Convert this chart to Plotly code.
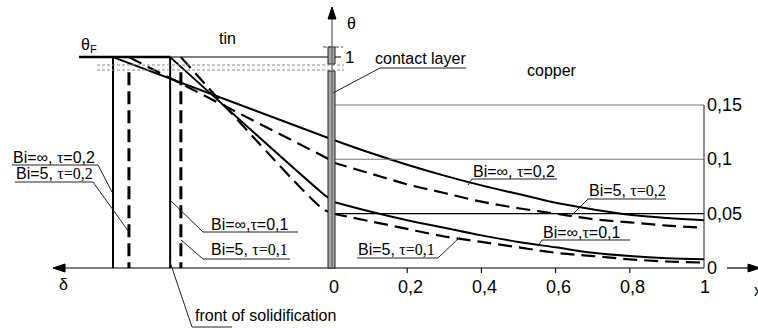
import plotly.graph_objects as go

# ---------------- data ----------------
# copper region (dimensionless x from contact), temperature theta
copper_x = [0.0, 0.1, 0.2, 0.3, 0.4, 0.5, 0.6, 0.7, 0.8, 0.9, 1.0]
theta_inf_02 = [0.118, 0.106, 0.095, 0.085, 0.076, 0.068, 0.060, 0.054, 0.049, 0.046, 0.044]
theta_bi5_02 = [0.097, 0.087, 0.077, 0.069, 0.061, 0.055, 0.050, 0.045, 0.042, 0.039, 0.037]
theta_inf_01 = [0.061, 0.052, 0.044, 0.037, 0.030, 0.024, 0.019, 0.014, 0.011, 0.009, 0.008]
theta_bi5_01 = [0.050, 0.043, 0.036, 0.029, 0.024, 0.019, 0.014, 0.011, 0.008, 0.006, 0.005]

# tin region (schematic, drawn left of the contact, theta axis compressed)
theta_F_disp = 0.194           # display level of theta = theta_F = 1
tin_inf_02_x = [-0.593, 0.0]
tin_inf_02_t = [0.194, 0.118]
tin_bi5_02_x = [-0.550, -0.016, 0.0]
tin_bi5_02_t = [0.194, 0.101, 0.097]
tin_inf_01_x = [-0.439, -0.022, -0.008, 0.0]
tin_inf_01_t = [0.194, 0.067, 0.0635, 0.061]
tin_bi5_01_x = [-0.410, -0.030, -0.011, 0.0]
tin_bi5_01_t = [0.194, 0.055, 0.0515, 0.050]

# solidification fronts
front_inf_02 = -0.593
front_bi5_02 = -0.550
front_inf_01 = -0.439
front_bi5_01 = -0.410
dashed_front_top = 0.180

x_ticks = [0, 0.2, 0.4, 0.6, 0.8, 1]
x_tick_labels = ["0", "0,2", "0,4", "0,6", "0,8", "1"]
theta_ticks = [0, 0.05, 0.1, 0.15]
theta_tick_labels = ["0", "0,05", "0,1", "0,15"]

# ---------------- layout helpers ----------------
W, H = 758, 328
X0_PX, X1_PX = 333.0, 704.0
Y0_PX = 268.0
PX_PER_THETA = 1087.0


def P(px, py):
    return ((px - X0_PX) / (X1_PX - X0_PX), (Y0_PX - py) / PX_PER_THETA)


def PX(px):
    return P(px, 0)[0]


def PY(py):
    return P(0, py)[1]


SANS = "Liberation Sans, Arial, sans-serif"
SERIF = "Liberation Serif, Times New Roman, serif"
BLACK = "#000000"

fig = go.Figure()

SOLID = dict(color=BLACK, width=2)
DASH = dict(color=BLACK, width=2.2, dash="14px,7px")


def add_line(x, y, line, shape="linear"):
    fig.add_trace(go.Scatter(x=x, y=y, mode="lines", line=dict(**line, shape=shape),
                             hoverinfo="skip", showlegend=False))


# theta_F level (thick) up to the tau=0.1 front
add_line([PX(79), front_inf_01], [theta_F_disp, theta_F_disp], dict(color=BLACK, width=2.5))

# fronts
add_line([front_inf_02, front_inf_02], [theta_F_disp, 0], SOLID)
add_line([front_inf_01, front_inf_01], [theta_F_disp, 0], SOLID)
add_line([front_bi5_02, front_bi5_02], [dashed_front_top, 0], dict(color=BLACK, width=3, dash="13px,6px"))
add_line([front_bi5_01, front_bi5_01], [dashed_front_top, 0], dict(color=BLACK, width=3, dash="13px,6px"))

# tin profiles
add_line(tin_inf_02_x, tin_inf_02_t, SOLID)
add_line(tin_bi5_02_x, tin_bi5_02_t, DASH)
add_line(tin_inf_01_x, tin_inf_01_t, SOLID, "spline")
add_line(tin_bi5_01_x, tin_bi5_01_t, DASH, "spline")

# copper profiles
add_line(copper_x, theta_inf_02, SOLID, "spline")
add_line(copper_x, theta_bi5_02, DASH, "spline")
add_line(copper_x, theta_inf_01, SOLID, "spline")
add_line(copper_x, theta_bi5_01, DASH, "spline")

shapes = []


def seg(p1, p2, color=BLACK, width=1, dash=None, layer="above"):
    x1, y1 = P(*p1)
    x2, y2 = P(*p2)
    ln = dict(color=color, width=width)
    if dash:
        ln["dash"] = dash
    shapes.append(dict(type="line", xref="x", yref="y", x0=x1, y0=y1, x1=x2, y1=y2,
                       line=ln, layer=layer))


def poly(pts, color=BLACK, width=1, fill=None, closed=False):
    d = ""
    for i, (px, py) in enumerate(pts):
        x, y = P(px, py)
        d += ("M" if i == 0 else "L") + f"{x},{y} "
    if closed:
        d += "Z"
    shapes.append(dict(type="path", xref="x", yref="y", path=d,
                       line=dict(color=color, width=width),
                       fillcolor=fill if fill else "rgba(0,0,0,0)"))


# theta = 1 thin line
seg((170, 57), (341, 57), width=1)
# double dashed lines
seg((97, 65), (344, 65), color="#8a8a8a", width=1.2, dash="3px,2px")
seg((97, 70), (344, 70), color="#8a8a8a", width=1.2, dash="3px,2px")
# top cap of contact layer
seg((323, 47), (343, 47), color="#555555", width=1.2, dash="4px,2px")

# horizontal axis
seg((62, 268), (704, 268), width=1.2)
seg((727, 268), (750, 268), width=1.2)
poly([(53, 268), (65, 264), (65, 272)], fill=BLACK, closed=True)
poly([(760, 268), (748, 264), (748, 272)], fill=BLACK, closed=True)

# copper grid / right axis from theta ticks
for t in theta_ticks[1:]:
    col = BLACK if t == 0.05 else "#777777"
    shapes.append(dict(type="line", xref="x", yref="y", x0=PX(335), x1=1, y0=t, y1=t,
                       line=dict(color=col, width=1.1)))
shapes.append(dict(type="line", xref="x", yref="y", x0=1, x1=1, y0=0, y1=max(theta_ticks),
                   line=dict(color="#333333", width=1.1)))
for xt in x_ticks[1:-1]:
    shapes.append(dict(type="line", xref="x", yref="y", x0=xt, x1=xt, y0=0, y1=PY(273),
                       line=dict(color=BLACK, width=1.1)))

# contact layer bar
for ytop, ybot in [(47, 64), (71, 268)]:
    x1, y1 = P(328, ybot)
    x2, y2 = P(335, ytop)
    shapes.append(dict(type="rect", xref="x", yref="y", x0=x1, x1=x2, y0=y1, y1=y2,
                       fillcolor="#a8a8a8", line=dict(color="#222222", width=1)))
# theta axis
seg((332, 268), (332, 16), color="#666666", width=1.3)
poly([(332, 7), (328, 19), (336, 19)], fill=BLACK, closed=True)

# leader lines
LC = "#222222"
poly([(12, 165), (98, 165), (112, 192)], color=LC)
poly([(15, 182), (93, 182), (129, 232)], color=LC)
poly([(170, 200), (203, 232), (298, 232)], color=LC)
poly([(181, 240), (203, 259), (290, 259)], color=LC)
poly([(170, 262), (192, 327), (232, 327)], color=LC)
poly([(333, 93), (380, 68), (466, 68)], color=LC)
poly([(468, 185), (472, 179), (557, 179)], color=LC)
poly([(570, 217), (588, 199), (666, 199)], color=LC)
poly([(538, 246), (542, 240), (630, 240)], color=LC)
poly([(357, 258), (438, 258), (460, 237)], color=LC)

annotations = []


def text(s, px, py, size=16, anchor="left", font=SANS, xshift=0):
    x, y = P(px, py)
    annotations.append(dict(x=x, y=y, xref="x", yref="y", text=s, showarrow=False,
                            xanchor=anchor, yanchor="middle", xshift=xshift,
                            font=dict(family=font, size=size, color=BLACK)))


def tau(v):
    return f"<span style='font-family:{SERIF}'>τ=0,{v}</span>"


def tau_s(v):
    return f"<span style='font-family:{SERIF}'>τ</span>=0,{v}"


text("Bi=∞, " + tau_s(2), 11, 157)
text("Bi=5, " + tau(2), 14, 173)
text("Bi=∞," + tau_s(1), 209, 224)
text("Bi=5, " + tau(1), 209, 249)
text("front of solidification", 193, 315)
text("contact layer", 373, 58)
text("copper", 552, 70, anchor="center")
text("tin", 227, 38, anchor="center")
text("θ", 345, 23)
text("θ<sub>F</sub>", 79, 45)
text("1", 343, 57, size=17)
text("Bi=∞, " + tau_s(2), 471, 171)
text("Bi=5, " + tau(2), 587, 190)
text("Bi=∞," + tau_s(1), 541, 232)
text("Bi=5, " + tau(1), 356, 249)
text("δ", 63, 284, anchor="center")
text("x", 752, 290)

# tick labels from tick arrays
for xt, lab in zip(x_ticks, x_tick_labels):
    annotations.append(dict(x=xt, y=PY(287), xref="x", yref="y", text=lab, showarrow=False,
                            xanchor="center", yanchor="middle", xshift=(3 if lab not in ("0", "1") else 1),
                            font=dict(family=SANS, size=18, color=BLACK)))
for t, lab in zip(theta_ticks, theta_tick_labels):
    annotations.append(dict(x=PX(705), y=t, xref="x", yref="y", text=lab, showarrow=False,
                            xanchor="left", yanchor="middle",
                            font=dict(family=SANS, size=18, color=BLACK)))

fig.update_layout(
    width=W, height=H, autosize=False,
    margin=dict(l=0, r=0, t=0, b=0),
    paper_bgcolor="white", plot_bgcolor="white",
    xaxis=dict(range=[PX(0), PX(W)], visible=False, fixedrange=True),
    yaxis=dict(range=[PY(H), PY(0)], visible=False, fixedrange=True),
    shapes=shapes, annotations=annotations, showlegend=False,
)

fig.write_html("out.html")
